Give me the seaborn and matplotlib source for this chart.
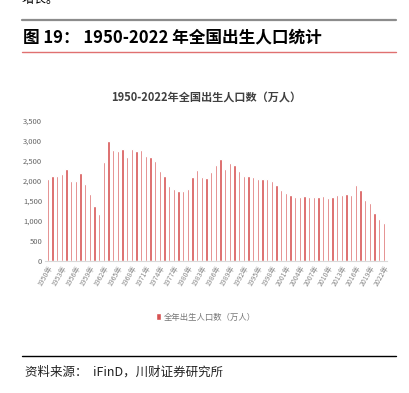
import numpy as np
import pandas as pd
import matplotlib
matplotlib.use("Agg")
import matplotlib.pyplot as plt
import seaborn as sns

# data (万人)
years = list(range(1950, 2023))
births = [
    2030, 2120, 2120, 2170, 2280, 1995, 1995, 2190, 1915, 1655,   # 1950-1959
    1380, 1175, 2475, 2995, 2750, 2740, 2790, 2590, 2790, 2740,   # 1960-1969
    2760, 2610, 2590, 2480, 2240, 2115, 1855, 1780, 1750, 1740,   # 1970-1979
    1780, 2090, 2255, 2080, 2065, 2222, 2388, 2537, 2289, 2430,   # 1980-1989
    2380, 2247, 2106, 2114, 2090, 2048, 2048, 2031, 1990, 1899,   # 1990-1999
    1766, 1683, 1642, 1584, 1584, 1609, 1584, 1592, 1600, 1609,   # 2000-2009
    1559, 1600, 1634, 1634, 1675, 1650, 1882, 1758, 1517, 1451,   # 2010-2019
    1194, 1045, 945,                                              # 2020-2022
]
year_labels = [f"{y}年" for y in years]
yticks = [0, 500, 1000, 1500, 2000, 2500, 3000, 3500]

chart_title = "1950-2022年全国出生人口数（万人）"
legend_label = "全年出生人口数（万人）"
header = "图 19： 1950-2022 年全国出生人口统计"
source = "资料来源：  iFinD，川财证券研究所"

sns.set_theme(style="white")
plt.rcParams["font.family"] = ["Noto Sans CJK SC", "DejaVu Sans"]

W, H = 410, 393
fig = plt.figure(figsize=(W / 100, H / 100), dpi=100)

def fx(px):
    return px / W

def fy(py):
    return 1 - py / H

# document frame
fig.text(fx(22), fy(0), "增长。", fontsize=9, va="center", ha="left", color="black")
fig.add_artist(plt.Line2D([fx(22), fx(396)], [fy(20), fy(20)], color="#8c8c8c", lw=1.6))
fig.text(fx(23), fy(37), header, fontsize=12, fontweight="bold", va="center", ha="left", color="black")
fig.add_artist(plt.Line2D([fx(22), fx(396)], [fy(52), fy(52)], color="#e07070", lw=1.0))
fig.add_artist(plt.Line2D([fx(22), fx(396)], [fy(356), fy(356)], color="black", lw=1.0))
fig.text(fx(25), fy(372), source, fontsize=9, va="center", ha="left", color="#222222", style="italic")

# chart
df = pd.DataFrame({"year": year_labels, "births": births})
ax = fig.add_axes([fx(44.9), fy(261), fx(386.5) - fx(44.9), fy(120.3) - fy(261)])
bar_color = "#d65252"
sns.barplot(data=df, x="year", y="births", color=bar_color, width=0.5,
            saturation=1, ax=ax, label=legend_label)

ax.set_xlim(-0.6, len(years) - 0.4)
ax.set_ylim(0, 3500)
ax.set_yticks(yticks)
ax.set_yticklabels([f"{v:,}" for v in yticks], fontsize=5.5, color="#666666")
pos = list(range(0, len(years), 3))
ax.set_xticks(pos)
ax.set_xticklabels([year_labels[i] for i in pos], rotation=60, ha="right",
                   rotation_mode="anchor", fontsize=5, color="#888888")
ax.tick_params(axis="both", length=0, pad=2)
ax.set_xlabel("")
ax.set_ylabel("")
for s in ["top", "right", "left"]:
    ax.spines[s].set_visible(False)
ax.spines["bottom"].set_color("#d9d9d9")
ax.spines["bottom"].set_linewidth(0.8)

fig.text(fx(206), fy(97), chart_title, fontsize=8, fontweight="bold", ha="center",
         va="center", color="#404040")

ax.legend(loc="center", bbox_to_anchor=(fx(206), fy(317)), bbox_transform=fig.transFigure,
          frameon=False, fontsize=6, handlelength=0.6, handleheight=0.8,
          handletextpad=0.4, labelcolor="#777777")

fig.savefig("out.png", dpi=100)
